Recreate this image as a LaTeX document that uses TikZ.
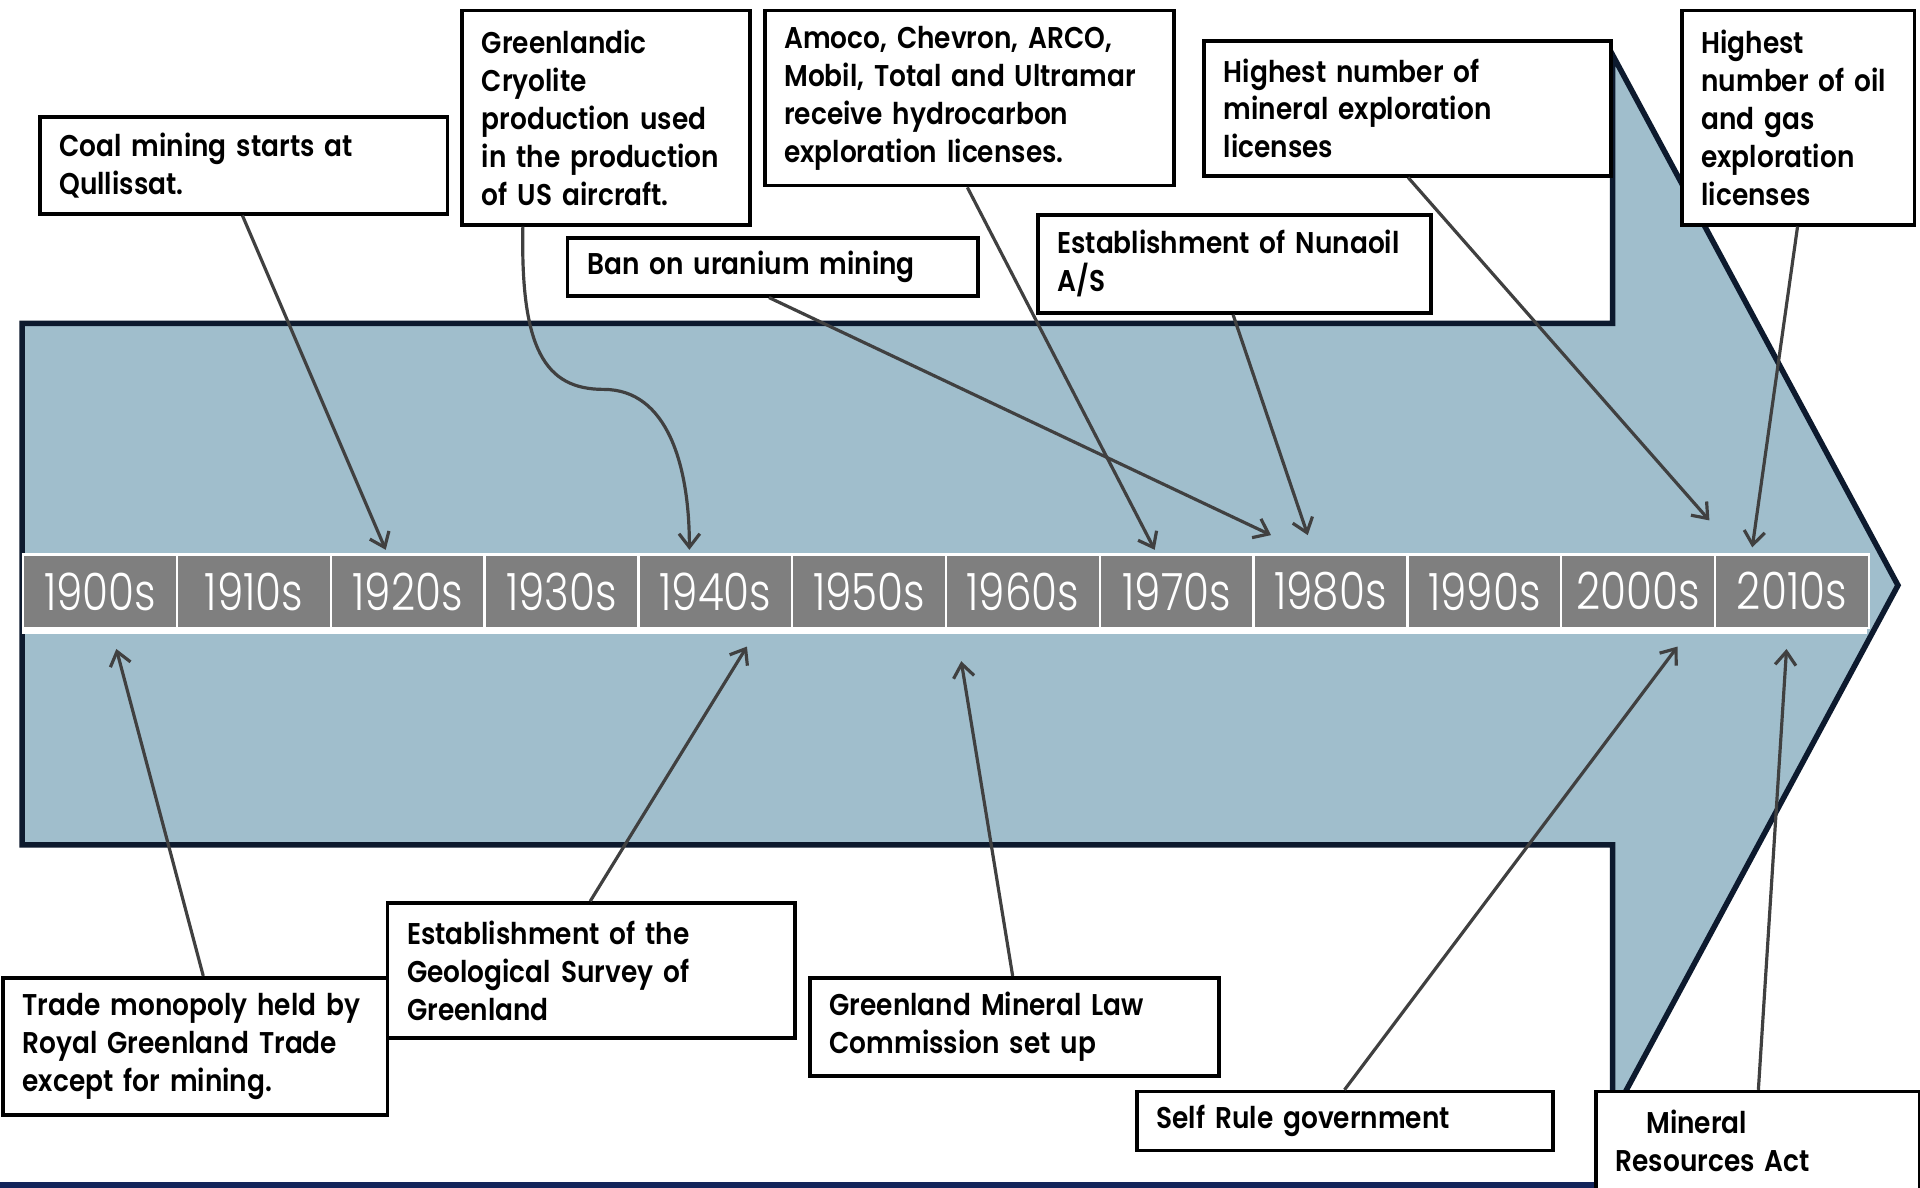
\documentclass[tikz,border=0pt]{standalone}
\usepackage{fontspec}
\setmainfont{Poppins SemiBold}[FakeStretch=0.88]
\newfontfamily\thinfont{Poppins Light}[FakeStretch=0.82]
\usetikzlibrary{arrows.meta}
\definecolor{arrowfill}{HTML}{A0BECC}
\definecolor{arrownavy}{HTML}{0D1A2E}
\definecolor{barnavy}{HTML}{13245A}
\definecolor{cellgray}{HTML}{7F7F7F}
\definecolor{conngray}{HTML}{404040}
\begin{document}
\begin{tikzpicture}[x=1pt,y=-1pt,
  box/.style={draw=black, line width=3pt, fill=white, anchor=north west, align=left,
    inner xsep=16pt, inner ysep=0pt, font=\fontsize{24.5}{31}\selectfont},
  cell/.style={draw=white, line width=2pt, fill=cellgray, anchor=north west,
    minimum width=125.6pt, minimum height=60pt, inner sep=0pt, text=white,
    font=\thinfont\fontsize{42}{42}\selectfont},
  conn/.style={draw=conngray, line width=2.6pt,
    -{Straight Barb[length=11pt,width=17pt,line width=2.6pt]}},
  bigarrow/.style={draw=arrownavy, line width=4.5pt, fill=arrowfill, line join=miter}
]
\useasboundingbox (0,0) rectangle (1568,970);
\fill[white] (0,0) rectangle (1568,970);
% big arrow
\draw[bigarrow] (18,264) -- (1317,264) -- (1317,45) -- (1550,478) -- (1317,911)
  -- (1317,690) -- (18,690) -- cycle;
% bottom bar
\fill[barnavy] (0,965) rectangle (1568,970);
% timeline
\fill[white] (18,452) rectangle (1525,518);
\node[cell] (d0)  at (18+0*125.6,452) {1900s};
\node[cell] (d1)  at (18+1*125.6,452) {1910s};
\node[cell] (d2)  at (18+2*125.6,452) {1920s};
\node[cell] (d3)  at (18+3*125.6,452) {1930s};
\node[cell] (d4)  at (18+4*125.6,452) {1940s};
\node[cell] (d5)  at (18+5*125.6,452) {1950s};
\node[cell] (d6)  at (18+6*125.6,452) {1960s};
\node[cell] (d7)  at (18+7*125.6,452) {1970s};
\node[cell] (d8)  at (18+8*125.6,452) {1980s};
\node[cell] (d9)  at (18+9*125.6,452) {1990s};
\node[cell] (d10) at (18+10*125.6,452) {2000s};
\node[cell] (d11) at (18+11*125.6,452) {2010s};
% arrow tips
\coordinate (ta) at (315,449);
\coordinate (tb) at (563,449);
\coordinate (tc) at (1038,437);
\coordinate (td) at (943,449);
\coordinate (te) at (1068,437);
\coordinate (tf) at (1396,425);
\coordinate (tg) at (1431,447);
\coordinate (th) at (95,530);
\coordinate (ti) at (610,528);
\coordinate (tj) at (785,540);
\coordinate (tk) at (1370,528);
\coordinate (tl) at (1459,530);
\coordinate (cryobend) at (493,318);
% boxes
\node[box, text width=301pt, minimum height=79pt] (coal) at (31,94)
  {Coal mining starts at\\Qullissat.};
\node[box, text width=203pt, minimum height=175pt] (cryo) at (376,7)
  {Greenlandic\\Cryolite\\production used\\in the production\\of US aircraft.};
\node[box, text width=302pt, minimum height=143pt] (amoco) at (623,7)
  {Amoco, Chevron, ARCO,\\Mobil, Total and Ultramar\\receive hydrocarbon\\exploration licenses.};
\node[box, text width=303pt, minimum height=47pt] (ban) at (462,193)
  {Ban on uranium mining};
\node[box, text width=289pt, minimum height=80pt] (nuna) at (846,174)
  {Establishment of Nunaoil\\A/S};
\node[box, text width=300pt, minimum height=110pt] (himin) at (982,32)
  {Highest number of\\mineral exploration\\licenses};
\node[box, text width=158pt, minimum height=175pt] (hioil) at (1372,7)
  {Highest\\number of oil\\and gas\\exploration\\licenses};
\node[box, text width=282pt, minimum height=112pt] (trade) at (1,797)
  {Trade monopoly held by\\Royal Greenland Trade\\except for mining.};
\node[box, text width=301pt, minimum height=110pt] (geo) at (315,736)
  {Establishment of the\\Geological Survey of\\Greenland};
\node[box, text width=302pt, minimum height=80pt] (law) at (660,797)
  {Greenland Mineral Law\\Commission set up};
\node[box, text width=308pt, minimum height=48pt] (self) at (927,890)
  {Self Rule government};
\node[box, text width=232pt, minimum height=80pt] (mra) at (1302,890)
  {\hspace*{25pt}Mineral\\Resources Act};
% connectors
\draw[conn] ([xshift=167pt]coal.south west) -- (ta);
\draw[conn] ([xshift=51pt]cryo.south west) .. controls (425,285) and (445,318) .. (cryobend)
  .. controls (545,318) and (563,380) .. (tb);
\draw[conn] ([xshift=166pt]ban.south west) -- (tc);
\draw[conn] ([xshift=167pt]amoco.south west) -- (td);
\draw[conn] ([xshift=161pt]nuna.south west) -- (te);
\draw[conn] ([xshift=168pt]himin.south west) -- (tf);
\draw[conn] ([xshift=96pt]hioil.south west) -- (tg);
\draw[conn] ([xshift=165pt]trade.north west) -- (th);
\draw[conn] ([xshift=167pt]geo.north west) -- (ti);
\draw[conn] ([xshift=167pt]law.north west) -- (tj);
\draw[conn] ([xshift=171pt]self.north west) -- (tk);
\draw[conn] ([xshift=134pt]mra.north west) -- (tl);
\end{tikzpicture}
\end{document}
